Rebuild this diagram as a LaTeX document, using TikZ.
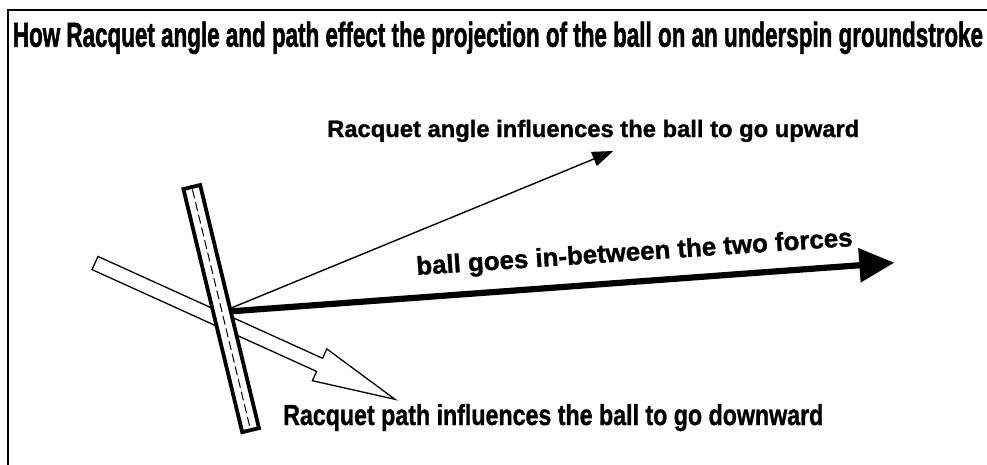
\documentclass[tikz,border=0pt]{standalone}
\usepackage{fontspec}
\setmainfont{Liberation Sans}
\newfontfamily\heavyfont{Liberation Sans Bold}[FakeBold=1.2]
\newfontfamily\titlefont{Liberation Sans Bold}[FakeBold=1.8]
\usetikzlibrary{arrows.meta}
\begin{document}
\begin{tikzpicture}[x=1pt,y=-1pt,
  lbl/.style={inner sep=0pt, anchor=base west, font=\heavyfont},
  frameline/.style={line width=1.8pt},
  hollow/.style={draw, fill=white, line width=1.3pt, line join=miter},
  thinarrow/.style={line width=1.4pt, -{Triangle[length=21pt,width=15pt]}},
  thickarrow/.style={line width=6.2pt, -{Triangle[length=35pt,width=33pt]}},
  racquetbox/.style={draw, fill=white, line width=3.8pt, minimum width=17.2pt,
    minimum height=250.1pt, inner sep=0pt, outer sep=0pt},
  centreline/.style={dash pattern=on 9pt off 4pt, line width=1pt, shorten >=2.5pt, shorten <=2.5pt}
]
\useasboundingbox (0,0) rectangle (987,464);
% frame
\draw[frameline] (8,470) -- (8,10.2) -- (995,10.2);
% title
\node[lbl, font=\titlefont] (title) at (12.7,46.7) {\resizebox{970pt}{25pt}{How Racquet angle and path effect the projection of the ball on an underspin groundstroke}};
% coordinates
\coordinate (hit) at (221.5,312);
\coordinate (upTip) at (613.3,151);
\coordinate (midTip) at (894.3,262.7);
% hollow racquet-path arrow
\draw[hollow] (97.97,256.44) -- (322.6,358.3) -- (326.8,348.9) -- (395,399.3)
  -- (312.4,380.7) -- (316.6,371.4) -- (92.0,269.6) -- cycle;
% force arrows
\draw[thinarrow] (hit) -- (upTip);
\draw[thickarrow] (hit) -- (midTip);
% racquet
\node[racquetbox, rotate=13.6] (racquet) at (221.2,308.6) {};
\draw[centreline] (racquet.north) -- (racquet.south);
% labels
\node[lbl] (angleLbl) at (327,137) {\resizebox{532pt}{!}{Racquet angle influences the ball to go upward}};
\node[lbl, rotate=3.8] (midLbl) at (416.7,275) {\resizebox{437pt}{!}{ball goes in-between the two forces}};
\node[lbl] (pathLbl) at (283,425) {\resizebox{540pt}{21pt}{Racquet path influences the ball to go downward}};
\end{tikzpicture}
\end{document}
